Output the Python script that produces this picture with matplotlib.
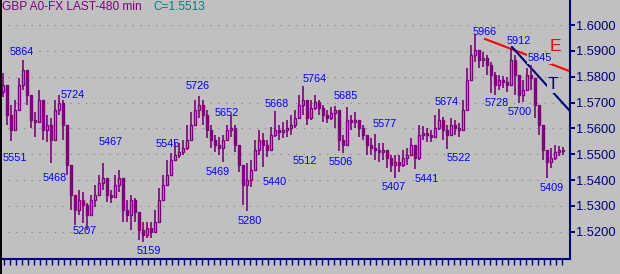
import matplotlib.pyplot as plt
from matplotlib.lines import Line2D

# 480-min GBP candles, prices in pips (5864 -> 1.5864)
closes = [5768, 5652, 5594, 5671, 5768, 5826, 5729, 5633, 5625, 5710,
          5594, 5613, 5555, 5671, 5698, 5613, 5458, 5342, 5284, 5323,
          5304, 5265, 5323, 5342, 5389, 5408, 5342, 5335, 5381, 5408,
          5284, 5265, 5323, 5277, 5207, 5188, 5215, 5199, 5238, 5323,
          5381, 5420, 5478, 5497, 5509, 5524, 5555, 5613, 5671, 5691,
          5652, 5594, 5555, 5536, 5524, 5555, 5594, 5602, 5536, 5458,
          5381, 5400, 5439, 5517, 5555, 5536, 5517, 5575, 5594, 5586,
          5594, 5602, 5613, 5640, 5691, 5710, 5640, 5679, 5702, 5679,
          5652, 5640, 5660, 5671, 5555, 5536, 5633, 5625, 5633, 5602,
          5575, 5536, 5524, 5517, 5509, 5517, 5486, 5458, 5470, 5458,
          5486, 5497, 5536, 5486, 5575, 5582, 5575, 5567, 5602, 5633,
          5594, 5575, 5613, 5602, 5594, 5671, 5787, 5884, 5903, 5865,
          5872, 5845, 5807, 5768, 5787, 5780, 5768, 5865, 5807, 5729,
          5749, 5807, 5795, 5691, 5613, 5517, 5470, 5486, 5509, 5517,
          5513]
highs = [5814, 5729, 5691, 5710, 5795, 5864, 5818, 5729, 5664, 5749,
         5652, 5652, 5640, 5710, 5729, 5710, 5575, 5458, 5342, 5362,
         5354, 5311, 5342, 5381, 5420, 5466, 5381, 5362, 5420, 5439,
         5362, 5323, 5342, 5331, 5265, 5238, 5238, 5238, 5284, 5369,
         5420, 5478, 5505, 5545, 5544, 5555, 5613, 5664, 5710, 5726,
         5710, 5671, 5613, 5575, 5567, 5575, 5613, 5652, 5613, 5536,
         5439, 5466, 5478, 5555, 5594, 5582, 5555, 5606, 5668, 5613,
         5625, 5633, 5652, 5671, 5729, 5764, 5679, 5710, 5729, 5710,
         5691, 5671, 5683, 5685, 5621, 5575, 5683, 5652, 5664, 5633,
         5613, 5575, 5563, 5577, 5544, 5544, 5517, 5497, 5497, 5497,
         5517, 5524, 5563, 5536, 5613, 5609, 5602, 5594, 5652, 5674,
         5644, 5613, 5640, 5633, 5621, 5710, 5834, 5923, 5966, 5903,
         5896, 5884, 5857, 5818, 5807, 5803, 5799, 5912, 5884, 5768,
         5787, 5834, 5845, 5768, 5664, 5555, 5497, 5524, 5536, 5532,
         5528]
lows = [5722, 5613, 5551, 5613, 5691, 5749, 5691, 5602, 5567, 5633,
        5555, 5547, 5468, 5613, 5652, 5555, 5420, 5284, 5226, 5265,
        5234, 5207, 5284, 5296, 5354, 5362, 5315, 5311, 5331, 5354,
        5238, 5238, 5207, 5238, 5168, 5159, 5176, 5176, 5207, 5284,
        5331, 5381, 5431, 5478, 5486, 5497, 5517, 5555, 5633, 5640,
        5613, 5563, 5524, 5509, 5497, 5469, 5555, 5567, 5509, 5431,
        5304, 5280, 5373, 5478, 5497, 5451, 5489, 5524, 5567, 5555,
        5563, 5567, 5575, 5602, 5652, 5652, 5613, 5633, 5671, 5652,
        5625, 5621, 5633, 5602, 5512, 5506, 5602, 5594, 5602, 5567,
        5555, 5497, 5497, 5478, 5470, 5478, 5447, 5431, 5407, 5431,
        5451, 5458, 5509, 5441, 5478, 5555, 5547, 5547, 5575, 5594,
        5555, 5522, 5582, 5575, 5567, 5625, 5691, 5845, 5857, 5834,
        5837, 5807, 5737, 5728, 5749, 5756, 5741, 5807, 5729, 5700,
        5702, 5768, 5749, 5640, 5575, 5478, 5409, 5447, 5478, 5493,
        5497]
first_open = 5740

# pivot labels: text, candle position, price of the text centre
pivot_text = ['5864', '5551', '5724', '5467', '5468', '5207', '5159', '5545',
              '5726', '5652', '5469', '5280', '5440', '5668', '5764', '5685',
              '5512', '5506', '5577', '5407', '5441', '5674', '5522', '5966',
              '5912', '5845', '5728', '5700', '5409']
pivot_x = [4.6, 2.9, 17.5, 26.9, 13.0, 20.5, 36.4, 41.25,
           48.75, 56.0, 53.6, 61.6, 68.0, 68.4, 77.9, 85.75,
           75.5, 84.4, 95.5, 97.6, 106.0, 110.9, 113.9, 120.4,
           128.9, 134.1, 123.4, 129.25, 137.1]
pivot_y = [5896, 5485, 5729, 5547, 5408, 5203, 5124, 5540,
           5764, 5660, 5433, 5242, 5393, 5695, 5791, 5726,
           5474, 5470, 5617, 5373, 5404, 5702, 5487, 5973,
           5940, 5871, 5698, 5664, 5371]

# trend lines E (red) and T (navy)
e_line_x = [120.5, 141.75]
e_line_y = [1.5946, 1.5821]
t_line_x = [127.25, 141.75]
t_line_y = [1.5915, 1.5667]

price_ticks = [1.52, 1.53, 1.54, 1.55, 1.56, 1.57, 1.58, 1.59, 1.60]

bg = '#c0c0c0'
purple = '#800080'
navy = '#000080'
plt.rcParams['font.family'] = ['Liberation Sans', 'DejaVu Sans']

fig = plt.figure(figsize=(6.2, 2.74), dpi=100, facecolor=bg)
ax = fig.add_axes([0, 15 / 274, 570 / 620, 259 / 274], facecolor=bg)

opens = [first_open] + closes[:-1]
for i in range(len(closes)):
    o = 1 + opens[i] / 10000
    c = 1 + closes[i] / 10000
    h = max(1 + highs[i] / 10000, o, c)
    l = min(1 + lows[i] / 10000, o, c)
    ax.vlines(i, l, h, color=purple, linewidth=1.2, zorder=4)
    if c >= o:
        ax.bar(i, c - o, bottom=o, width=0.55, facecolor=bg, edgecolor=purple,
               linewidth=1.0, zorder=5)
    else:
        ax.bar(i, o - c, bottom=c, width=0.55, facecolor=purple, edgecolor=purple,
               linewidth=1.0, zorder=5)

# dotted grid
for p in price_ticks:
    ax.plot([-0.75, 140.5], [p, p], color='#808080', linewidth=0.8,
            linestyle=(0, (1, 6)), zorder=1)

ax.plot(e_line_x, e_line_y, color='#ff0000', linewidth=1.5, zorder=2)
ax.plot(t_line_x, t_line_y, color=navy, linewidth=1.5, zorder=2)
ax.text(138, 1.5915, 'E', color='#ff0000', fontsize=12.5, ha='center', va='center',
        bbox=dict(facecolor=bg, edgecolor='none', pad=0.3), zorder=3)
ax.text(137.5, 1.5768, 'T', color=navy, fontsize=12.5, ha='center', va='center',
        bbox=dict(facecolor=bg, edgecolor='none', pad=0.3), zorder=3)

for txt, x, y in zip(pivot_text, pivot_x, pivot_y):
    ax.text(x, 1 + y / 10000, txt, color='#0000ff', fontsize=7.8, ha='center',
            va='center', bbox=dict(facecolor=bg, edgecolor='none', pad=0.3), zorder=3)

ax.set_xlim(-0.75, 141.75)
ax.set_ylim(1.50947, 1.60968)

ax.yaxis.tick_right()
ax.set_yticks(price_ticks)
ax.set_yticklabels([f'{p:.4f}' for p in price_ticks])
ax.set_xticks([0.25 + 1.5 * k for k in range(94)])
ax.set_xticklabels([])
ax.tick_params(axis='y', colors=navy, length=3.6, width=1.4, pad=1, labelsize=9.3)
ax.tick_params(axis='x', colors=navy, length=4.3, width=1.0)

for side in ['top', 'left']:
    ax.spines[side].set_visible(False)
for side in ['right', 'bottom']:
    ax.spines[side].set_color(navy)
    ax.spines[side].set_linewidth(1.5)

fig.text(2 / 620, 1 - 9.5 / 274, 'GBP A0-FX LAST-480 min', color=purple,
         fontsize=8.6, ha='left', va='baseline')
fig.text(153 / 620, 1 - 9.5 / 274, 'C=1.5513', color='#008080',
         fontsize=8.6, ha='left', va='baseline')
fig.add_artist(Line2D([0.8 / 620, 0.8 / 620], [0, 1], color='black', linewidth=1.4))

fig.savefig('out.png', dpi=100, facecolor=bg)
